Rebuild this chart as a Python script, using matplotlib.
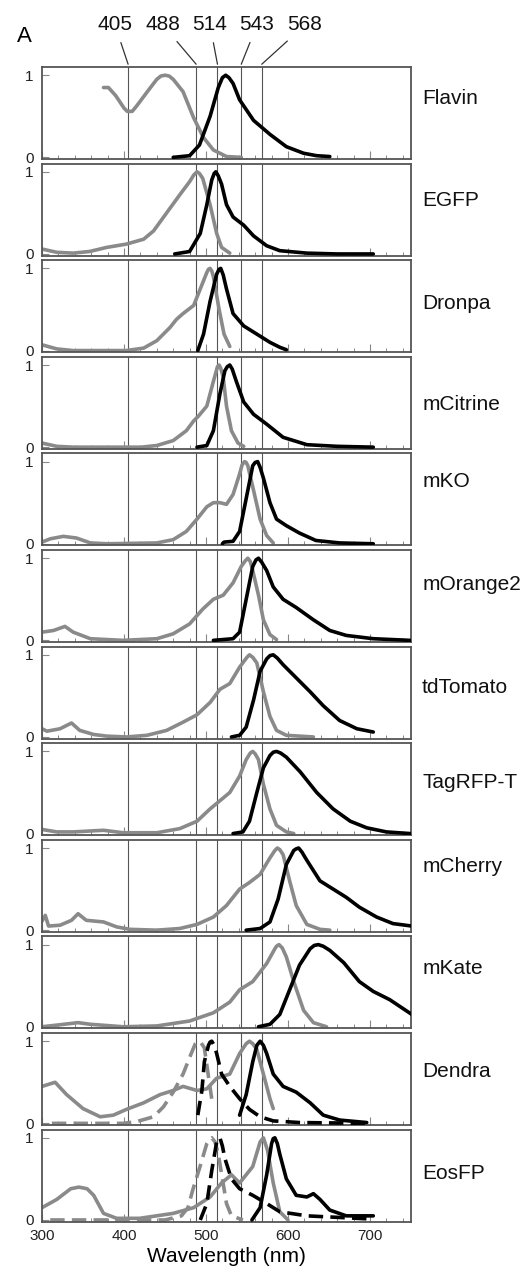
"""Excitation (grey) and emission (black) spectra of twelve fluorophores with laser lines."""

import matplotlib.pyplot as plt
from matplotlib.ticker import MultipleLocator

plt.rcParams['font.family'] = ['Liberation Sans', 'DejaVu Sans']

GREY = "#8a8a8a"
laser_lines = [405, 488, 514, 543, 568]
laser_label_x = [115, 163, 210, 257, 305]     # label centres in pixels

# ---- spectra: (wavelength nm, normalised value) ----
flavin_ex_nm = [375, 381, 390, 400, 404, 410, 415, 430, 440, 445, 450, 455, 460, 472, 485, 497, 509, 525, 543]
flavin_ex = [0.85, 0.85, 0.75, 0.6, 0.56, 0.56, 0.62, 0.82, 0.95, 0.99, 1.0, 0.99, 0.95, 0.8, 0.48, 0.24, 0.09, 0.01, 0.0]
flavin_em_nm = [460, 480, 492, 505, 515, 520, 524, 528, 533, 541, 558, 578, 598, 619, 635, 651]
flavin_em = [0.0, 0.02, 0.15, 0.5, 0.85, 0.97, 1.0, 0.97, 0.9, 0.7, 0.45, 0.28, 0.13, 0.05, 0.02, 0.01]

egfp_ex_nm = [300, 318, 338, 358, 379, 403, 424, 436, 452, 468, 480, 485, 489, 492, 496, 505, 513, 519, 529]
egfp_ex = [0.06, 0.02, 0.01, 0.03, 0.08, 0.12, 0.18, 0.28, 0.5, 0.72, 0.88, 0.96, 1.0, 0.98, 0.92, 0.6, 0.25, 0.08, 0.01]
egfp_em_nm = [462, 480, 493, 501, 507, 510, 512, 515, 519, 525, 533, 546, 558, 574, 590, 623, 660, 704]
egfp_em = [0.0, 0.03, 0.25, 0.6, 0.9, 0.98, 1.0, 0.95, 0.85, 0.6, 0.45, 0.35, 0.22, 0.1, 0.04, 0.01, 0.0, 0.0]

dronpa_ex_nm = [300, 318, 338, 403, 424, 440, 456, 464, 472, 485, 493, 501, 503, 505, 507, 509, 516, 522, 529]
dronpa_ex = [0.07, 0.02, 0.0, 0.0, 0.03, 0.12, 0.28, 0.38, 0.45, 0.55, 0.75, 0.95, 0.99, 1.0, 0.97, 0.9, 0.5, 0.2, 0.05]
dronpa_em_nm = [490, 497, 505, 513, 516, 518, 521, 525, 533, 546, 562, 578, 590, 598]
dronpa_em = [0.0, 0.2, 0.6, 0.93, 0.99, 1.0, 0.92, 0.75, 0.45, 0.3, 0.2, 0.1, 0.04, 0.01]

mcitrine_ex_nm = [300, 318, 338, 421, 440, 460, 476, 485, 491, 501, 509, 514, 516, 518, 521, 525, 531, 539, 546]
mcitrine_ex = [0.05, 0.01, 0.0, 0.0, 0.02, 0.08, 0.2, 0.32, 0.38, 0.5, 0.8, 0.98, 1.0, 0.96, 0.85, 0.5, 0.2, 0.05, 0.01]
mcitrine_em_nm = [489, 501, 509, 517, 523, 526, 529, 532, 537, 546, 558, 574, 594, 623, 660, 704]
mcitrine_em = [0.0, 0.02, 0.2, 0.65, 0.93, 0.98, 1.0, 0.95, 0.8, 0.55, 0.4, 0.28, 0.12, 0.03, 0.01, 0.0]

mko_ex_nm = [300, 310, 326, 342, 359, 379, 440, 460, 476, 489, 501, 509, 517, 525, 533, 541, 544, 547,
             549, 551, 558, 566, 574, 582]
mko_ex = [0.02, 0.06, 0.09, 0.07, 0.01, 0.0, 0.01, 0.05, 0.15, 0.3, 0.45, 0.5, 0.5, 0.48, 0.6, 0.85, 0.96, 1.0,
          0.99, 0.95, 0.65, 0.3, 0.1, 0.01]
mko_em_nm = [520, 522, 533, 541, 549, 557, 560, 563, 566, 570, 578, 586, 598, 614, 634, 663, 704]
mko_em = [0.0, 0.02, 0.03, 0.15, 0.55, 0.95, 0.99, 1.0, 0.93, 0.8, 0.5, 0.3, 0.22, 0.13, 0.04, 0.01, 0.0]

morange2_ex_nm = [300, 314, 328, 338, 359, 399, 440, 460, 480, 496, 509, 521, 533, 543, 548, 551, 554,
                  557, 564, 570, 578, 586]
morange2_ex = [0.1, 0.12, 0.17, 0.1, 0.02, 0.0, 0.02, 0.08, 0.2, 0.38, 0.5, 0.55, 0.7, 0.9, 0.97, 1.0, 0.96,
               0.85, 0.55, 0.25, 0.07, 0.01]
morange2_em_nm = [509, 533, 541, 549, 557, 561, 564, 568, 574, 582, 594, 610, 631, 651, 671, 704, 749]
morange2_em = [0.0, 0.02, 0.1, 0.5, 0.9, 0.98, 1.0, 0.95, 0.85, 0.65, 0.5, 0.4, 0.25, 0.12, 0.06, 0.02, 0.0]

tdtomato_ex_nm = [300, 306, 322, 336, 346, 363, 379, 403, 428, 452, 472, 489, 505, 517, 529, 541,
                  550, 553, 557, 562, 570, 578, 586, 598, 631]
tdtomato_ex = [0.1, 0.07, 0.1, 0.17, 0.08, 0.03, 0.01, 0.0, 0.02, 0.08, 0.18, 0.27, 0.42, 0.58, 0.65,
               0.85, 0.97, 1.0, 0.97, 0.9, 0.55, 0.25, 0.08, 0.02, 0.0]
tdtomato_em_nm = [531, 541, 549, 558, 566, 574, 578, 582, 587, 594, 610, 627, 643, 663, 684, 704]
tdtomato_em = [0.0, 0.02, 0.12, 0.45, 0.8, 0.95, 0.99, 1.0, 0.96, 0.88, 0.72, 0.55, 0.38, 0.2, 0.1, 0.06]

tagrfp_ex_nm = [300, 318, 338, 375, 399, 440, 468, 489, 505, 517, 529, 541, 549, 554, 557, 560, 564, 570,
                578, 586, 598, 607]
tagrfp_ex = [0.05, 0.02, 0.02, 0.04, 0.01, 0.01, 0.06, 0.15, 0.3, 0.4, 0.5, 0.7, 0.9, 0.98, 1.0, 0.97, 0.9, 0.6,
             0.3, 0.1, 0.02, 0.0]
tagrfp_em_nm = [533, 545, 553, 562, 570, 578, 582, 586, 591, 598, 615, 635, 655, 676, 696, 720, 749]
tagrfp_em = [0.0, 0.02, 0.15, 0.5, 0.8, 0.95, 0.99, 1.0, 0.98, 0.93, 0.75, 0.5, 0.3, 0.15, 0.07, 0.02, 0.0]

mcherry_ex_nm = [300, 304, 308, 322, 336, 344, 354, 375, 391, 407, 440, 468, 489, 509, 525, 541,
                 553, 566, 578, 584, 587, 590, 594, 602, 610, 623, 639, 651]
mcherry_ex = [0.11, 0.18, 0.05, 0.06, 0.12, 0.2, 0.12, 0.1, 0.04, 0.01, 0.0, 0.02, 0.07, 0.16, 0.3,
              0.5, 0.58, 0.68, 0.88, 0.97, 1.0, 0.98, 0.92, 0.6, 0.3, 0.07, 0.01, 0.0]
mcherry_em_nm = [549, 566, 578, 588, 598, 607, 610, 613, 617, 623, 639, 655, 671, 687, 708, 728, 751]
mcherry_em = [0.0, 0.02, 0.1, 0.38, 0.8, 0.97, 0.99, 1.0, 0.95, 0.85, 0.6, 0.5, 0.4, 0.28, 0.16, 0.08, 0.05]

mkate_ex_nm = [300, 318, 344, 359, 399, 440, 480, 509, 529, 541, 557, 574, 584, 586, 589, 593, 598, 607,
               619, 631, 647]
mkate_ex = [0.0, 0.02, 0.05, 0.03, 0.0, 0.01, 0.07, 0.17, 0.3, 0.45, 0.55, 0.77, 0.95, 0.98, 1.0, 0.96, 0.85,
            0.55, 0.2, 0.05, 0.0]
mkate_em_nm = [564, 578, 590, 602, 614, 627, 632, 637, 643, 651, 668, 687, 704, 724, 751]
mkate_em = [0.0, 0.03, 0.15, 0.45, 0.75, 0.95, 0.99, 1.0, 0.98, 0.93, 0.78, 0.55, 0.43, 0.33, 0.15]

dendra_ex_red_nm = [300, 316, 330, 350, 371, 387, 403, 424, 444, 460, 472, 489, 501, 513, 529, 541,
                    549, 553, 557, 562, 570, 578, 582]
dendra_ex_red = [0.45, 0.5, 0.35, 0.18, 0.08, 0.1, 0.17, 0.25, 0.35, 0.4, 0.45, 0.4, 0.42, 0.55,
                 0.6, 0.85, 0.97, 1.0, 0.97, 0.9, 0.6, 0.3, 0.18]
dendra_ex_green_nm = [312, 359, 399, 415, 436, 448, 460, 472, 482, 487, 490, 494, 498, 504, 507]
dendra_ex_green = [0.0, 0.0, 0.0, 0.02, 0.08, 0.2, 0.38, 0.6, 0.85, 0.97, 1.0, 0.98, 0.92, 0.5, 0.3]
dendra_em_green_nm = [490, 495, 498, 503, 505, 507, 510, 513, 519, 529, 541, 553, 566, 582, 614, 696]
dendra_em_green = [0.1, 0.4, 0.75, 0.95, 0.99, 1.0, 0.95, 0.85, 0.6, 0.45, 0.3, 0.17, 0.08, 0.03, 0.01, 0.0]
dendra_em_red_nm = [541, 549, 557, 562, 566, 570, 574, 582, 594, 610, 627, 643, 663, 696]
dendra_em_red = [0.1, 0.35, 0.75, 0.95, 1.0, 0.95, 0.85, 0.6, 0.45, 0.38, 0.25, 0.1, 0.04, 0.01]

eosfp_ex_red_nm = [300, 318, 335, 345, 355, 363, 375, 391, 419, 460, 485, 505, 519, 531, 541, 557,
                   566, 570, 575, 582, 590, 600]
eosfp_ex_red = [0.15, 0.25, 0.38, 0.4, 0.38, 0.3, 0.08, 0.02, 0.02, 0.08, 0.15, 0.28, 0.45, 0.55,
                0.45, 0.65, 0.95, 1.0, 0.85, 0.45, 0.1, 0.0]
eosfp_ex_green_nm = [310, 450, 470, 478, 484, 493, 501, 504, 507, 511, 515, 520, 525, 531, 545]
eosfp_ex_green = [0.0, 0.0, 0.05, 0.15, 0.37, 0.66, 0.93, 0.98, 1.0, 0.95, 0.8, 0.5, 0.2, 0.05, 0.0]
eosfp_em_green_nm = [493, 501, 507, 513, 515, 517, 520, 523, 531, 541, 557, 574, 590, 623, 704]
eosfp_em_green = [0.0, 0.2, 0.6, 0.95, 0.99, 1.0, 0.9, 0.75, 0.5, 0.38, 0.3, 0.2, 0.1, 0.05, 0.01]
eosfp_em_red_nm = [556, 566, 574, 580, 582, 584, 587, 590, 598, 610, 623, 631, 639, 651, 671, 704]
eosfp_em_red = [0.0, 0.15, 0.55, 0.93, 0.99, 1.0, 0.93, 0.8, 0.5, 0.3, 0.28, 0.32, 0.25, 0.12, 0.05, 0.05]

# name, label height (axes fraction), curves: (x, y, colour, dashed)
panels = [
    ("Flavin", 0.66, [(flavin_ex_nm, flavin_ex, GREY, False), (flavin_em_nm, flavin_em, "k", False)]),
    ("EGFP", 0.60, [(egfp_ex_nm, egfp_ex, GREY, False), (egfp_em_nm, egfp_em, "k", False)]),
    ("Dronpa", 0.53, [(dronpa_ex_nm, dronpa_ex, GREY, False), (dronpa_em_nm, dronpa_em, "k", False)]),
    ("mCitrine", 0.48, [(mcitrine_ex_nm, mcitrine_ex, GREY, False), (mcitrine_em_nm, mcitrine_em, "k", False)]),
    ("mKO", 0.69, [(mko_ex_nm, mko_ex, GREY, False), (mko_em_nm, mko_em, "k", False)]),
    ("mOrange2", 0.62, [(morange2_ex_nm, morange2_ex, GREY, False), (morange2_em_nm, morange2_em, "k", False)]),
    ("tdTomato", 0.55, [(tdtomato_ex_nm, tdtomato_ex, GREY, False), (tdtomato_em_nm, tdtomato_em, "k", False)]),
    ("TagRFP-T", 0.57, [(tagrfp_ex_nm, tagrfp_ex, GREY, False), (tagrfp_em_nm, tagrfp_em, "k", False)]),
    ("mCherry", 0.71, [(mcherry_ex_nm, mcherry_ex, GREY, False), (mcherry_em_nm, mcherry_em, "k", False)]),
    ("mKate", 0.65, [(mkate_ex_nm, mkate_ex, GREY, False), (mkate_em_nm, mkate_em, "k", False)]),
    ("Dendra", 0.58, [(dendra_ex_red_nm, dendra_ex_red, GREY, False),
                      (dendra_ex_green_nm, dendra_ex_green, GREY, True),
                      (dendra_em_green_nm, dendra_em_green, "k", True),
                      (dendra_em_red_nm, dendra_em_red, "k", False)]),
    ("EosFP", 0.52, [(eosfp_ex_red_nm, eosfp_ex_red, GREY, False),
                     (eosfp_ex_green_nm, eosfp_ex_green, GREY, True),
                     (eosfp_em_green_nm, eosfp_em_green, "k", True),
                     (eosfp_em_red_nm, eosfp_em_red, "k", False)]),
]

W, H = 525, 1272
fig = plt.figure(figsize=(W / 100, H / 100), dpi=100)

left, width = 42 / W, 369 / W
top0, panel_h, step = 67, 92, 96.6

axes = []
for i, (name, label_y, curves) in enumerate(panels):
    top = top0 + i * step
    ax = fig.add_axes([left, 1 - (top + panel_h) / H, width, panel_h / H])
    axes.append(ax)
    for w in laser_lines:
        ax.axvline(w, color="#555555", lw=0.8, zorder=1)
    for x, y, c, dashed in curves:
        ls = (0, (4, 2)) if dashed else "-"
        ax.plot(x, y, color=c, lw=2.6, ls=ls, solid_joinstyle="round",
                solid_capstyle="round", zorder=3 if c == "k" else 2)
    ax.set_xlim(300, 750)
    ax.set_ylim(-0.02, 1.1)
    ax.set_yticks([0, 1])
    ax.set_yticklabels(["0", "1"])
    ax.xaxis.set_major_locator(MultipleLocator(100))
    ax.xaxis.set_minor_locator(MultipleLocator(20))
    ax.tick_params(axis="both", which="both", direction="in", colors="#888888",
                   labelcolor="#222222", labelsize=11, top=False, right=False)
    ax.tick_params(axis="x", which="major", length=6, width=0.8)
    ax.tick_params(axis="x", which="minor", length=3, width=0.7)
    ax.tick_params(axis="y", length=5, width=0.8, pad=6)
    for s in ax.spines.values():
        s.set_color("#555555")
        s.set_linewidth(1.3)
    if i < len(panels) - 1:
        ax.tick_params(axis="x", labelbottom=False)
    ax.text(1.03, label_y, name, transform=ax.transAxes, fontsize=15,
            va="center", ha="left", color="#111111")

axes[-1].set_xticks([300, 400, 500, 600, 700])
axes[-1].tick_params(axis="x", which="major", labelsize=11, pad=5)
axes[-1].set_xlabel("Wavelength (nm)", fontsize=15, labelpad=3)

for w, lx in zip(laser_lines, laser_label_x):
    axes[0].annotate(str(w), xy=(w, 1.03), xycoords=("data", "axes fraction"),
                     xytext=(lx / W, 1 - 25 / H), textcoords="figure fraction",
                     ha="center", va="center", fontsize=15, color="#111111",
                     arrowprops=dict(arrowstyle="-", color="#333333", lw=0.9,
                                     shrinkA=4, shrinkB=0))

fig.text(17 / W, 1 - 37 / H, "A", fontsize=16, ha="left", va="center")

plt.savefig("out.png", dpi=100)
